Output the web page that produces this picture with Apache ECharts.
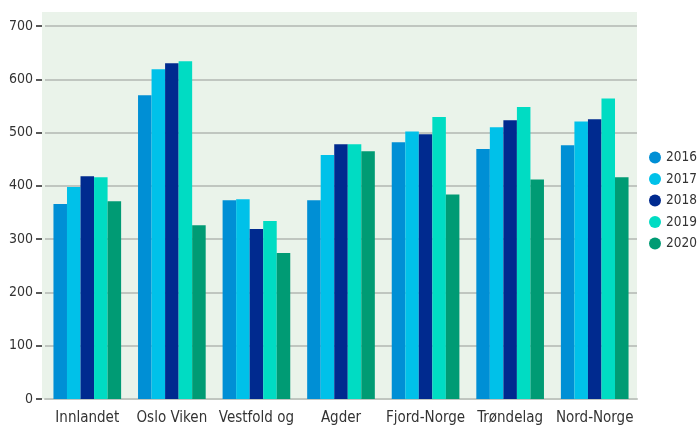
<!DOCTYPE html>
<html><head><meta charset="utf-8">
<script src="https://cdn.jsdelivr.net/npm/echarts@6/dist/echarts.min.js"></script>
<style>html,body{margin:0;padding:0;background:#fff}#c{width:697px;height:428px}</style>
</head><body><div id="c"></div>
<script>
var categories = ["Innlandet","Oslo Viken","Vestfold og","Agder","Fjord-Norge","Trøndelag","Nord-Norge"];
var years = ["2016","2017","2018","2019","2020"];
var v2016 = [366,570,373,373,482,469,476];
var v2017 = [398,619,375,458,502,510,521];
var v2018 = [418,630,319,478,497,523,525];
var v2019 = [416,634,334,478,529,548,564];
var v2020 = [371,326,274,465,384,412,416];
var colors = ["#008fd5","#00c1e9","#002a8f","#00dcc3","#009b74"];
var values = [v2016,v2017,v2018,v2019,v2020];
var font = "'DejaVu Sans Condensed','Liberation Sans Narrow','Open Sans',sans-serif";
var chart = echarts.init(document.getElementById('c'));
chart.setOption({
  animation:false,
  textStyle:{fontFamily:font},
  graphic:[{type:'rect',z:-10,shape:{x:42,y:12,width:595,height:387},style:{fill:'#eaf3ea'}}],
  grid:{left:45,right:60,top:26,bottom:29},
  legend:{orient:'vertical',left:649,top:150,padding:0,itemGap:6.5,icon:'circle',itemWidth:12,itemHeight:12,
    textStyle:{fontSize:13.5,color:'#333',fontFamily:font,lineHeight:15},data:years},
  xAxis:{type:'category',data:categories,
    axisLine:{show:true,lineStyle:{color:'#c0c6c0',width:2}},axisTick:{show:false},
    axisLabel:{fontSize:15,color:'#333',margin:12,interval:0}},
  yAxis:{type:'value',min:0,max:700,interval:100,offset:3,
    axisLine:{show:false},axisTick:{show:true,inside:false,length:6,lineStyle:{color:'#222',width:1.5}},
    axisLabel:{fontSize:14,color:'#333',margin:9},
    splitLine:{lineStyle:{color:'#c0c6c0',width:2}}},
  series: years.map(function(y,i){return {name:y,type:'bar',data:values[i],barGap:'0%',barCategoryGap:'20%',itemStyle:{color:colors[i]}};})
});
</script></body></html>
